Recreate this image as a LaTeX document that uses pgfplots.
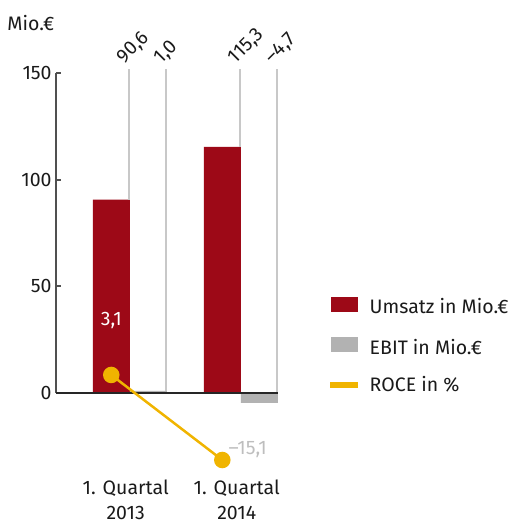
\documentclass[border=0pt]{standalone}
\usepackage{fontspec}
\setmainfont{Fira Sans}
\usepackage{pgfplots}
\pgfplotsset{compat=1.18}

\definecolor{umsatz}{RGB}{157,9,23}
\definecolor{ebit}{RGB}{178,178,178}
\definecolor{roce}{RGB}{240,180,0}
\definecolor{leader}{RGB}{200,200,200}
\definecolor{spine}{RGB}{80,80,80}
\definecolor{txt}{RGB}{26,26,26}
\definecolor{negroce}{RGB}{190,190,190}

\newcommand{\chartfont}{\fontsize{9.75}{12.5}\selectfont}

\begin{document}
\begin{tikzpicture}[font=\chartfont, text=txt]
\path[use as bounding box] (0,0) rectangle (254.5pt,-261.5pt);

% Umsatz and EBIT (left scale, Mio. EUR)
\begin{axis}[
  scale only axis, width=110.65pt, height=201.6pt,
  at={(28.25pt,-235.95pt)}, anchor=south west,
  xmin=-1.48, xmax=4.5, ymin=-37, ymax=152,
  clip=false,
  axis line style={draw=none},
  ytick={0,50,100,150}, ytick pos=left,
  tick align=inside, major tick length=2.5pt,
  tick style={spine, line width=1pt},
  yticklabel style={anchor=east, inner sep=0pt, xshift=-2.25pt, font=\chartfont},
  /pgf/number format/assume math mode=true,
  xtick={0.39,3.39}, xticklabels={{1. Quartal\\2013},{1. Quartal\\2014}},
  xtick style={draw=none},
  xticklabel style={align=center, anchor=north, inner sep=0pt, yshift=-4pt, font=\chartfont},
  legend style={at={(1.236,0.436)}, anchor=north west, draw=none, fill=none,
    inner sep=0pt, row sep=9.75pt, font=\chartfont,
    nodes={inner sep=0pt, text height=7pt, text depth=2pt},
    /tikz/every odd column/.append style={column sep=5.75pt}},
  legend cell align=left,
]
  \addplot[ybar, bar width=1, bar shift=0pt, fill=umsatz, draw=none,
    area legend,
    legend image code/.code={\fill[umsatz] (0pt,-1.5pt) rectangle (13.5pt,6pt);}]
    coordinates {(0,90.6) (3,115.3)};
  \addlegendentry{Umsatz in Mio.€}
  \addplot[ybar, bar width=1, bar shift=0pt, fill=ebit, draw=none,
    area legend,
    legend image code/.code={\fill[ebit] (0pt,-1.5pt) rectangle (13.5pt,6pt);}]
    coordinates {(1,1.0) (4,-4.7)};
  \addlegendentry{EBIT in Mio.€}
  \addlegendimage{legend image code/.code={\fill[roce] (0pt,-0.5pt) rectangle (13.5pt,2pt);}}
  \addlegendentry{ROCE in \%}

  % leader lines from the bars up to the value labels
  \addplot[leader, line width=1pt, forget plot] coordinates {(0.47,90.6) (0.47,152)};
  \addplot[leader, line width=1pt, forget plot] coordinates {(1.47,1.0) (1.47,152)};
  \addplot[leader, line width=1pt, forget plot] coordinates {(3.47,115.3) (3.47,152)};
  \addplot[leader, line width=1pt, forget plot] coordinates {(4.47,0) (4.47,152)};

  % axis lines
  \draw[spine, line width=1pt] (axis cs:-1.48,0) -- (axis cs:-1.48,150);
  \draw[black!85, line width=1pt] (axis cs:-1.48,0) -- (axis cs:4.5,0);

  % value labels
  \node[rotate=45, anchor=base west, inner sep=0pt, yshift=3pt] at (axis cs:0.47,152) {90,6};
  \node[rotate=45, anchor=base west, inner sep=0pt, yshift=3pt] at (axis cs:1.47,152) {1,0};
  \node[rotate=45, anchor=base west, inner sep=0pt, yshift=3pt] at (axis cs:3.47,152) {115,3};
  \node[rotate=45, anchor=base west, inner sep=0pt, yshift=3pt] at (axis cs:4.47,152) {–4,7};
\end{axis}

% ROCE (own scale, %)
\begin{axis}[
  scale only axis, width=110.65pt, height=201.6pt,
  at={(28.25pt,-235.95pt)}, anchor=south west,
  xmin=-1.48, xmax=4.5, ymin=-17.65, ymax=68.65,
  clip=false, hide axis,
]
  \addplot[roce, line width=1.25pt, mark=*, mark size=3.5pt,
    mark options={fill=roce, draw=none}]
    coordinates {(0,3.1) (3,-15.1)};
  \node[white, anchor=base, inner sep=0pt, yshift=24.5pt] at (axis cs:0,3.1) {3,1};
  \node[negroce, anchor=base west, inner sep=0pt, xshift=3pt, yshift=2.5pt] at (axis cs:3,-15.1) {–15,1};
\end{axis}

\node[anchor=base west, inner sep=0pt] at (3.5pt,-15.5pt) {Mio.€};
\end{tikzpicture}
\end{document}
